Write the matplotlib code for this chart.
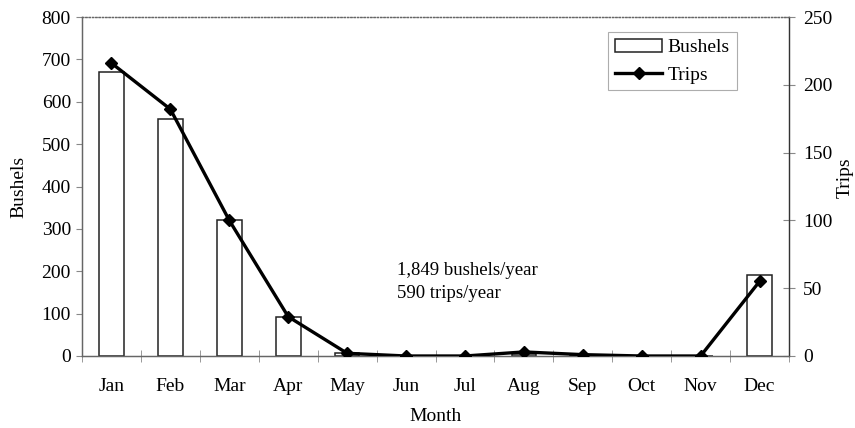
import matplotlib.pyplot as plt
import numpy as np

plt.rcParams['font.family'] = ['Liberation Serif', 'DejaVu Serif']

months = ['Jan', 'Feb', 'Mar', 'Apr', 'May', 'Jun', 'Jul', 'Aug', 'Sep', 'Oct', 'Nov', 'Dec']
bushels = [670, 560, 320, 92, 8, 0, 0, 5, 2, 0, 0, 192]
trips = [216, 182, 100, 29, 2, 0, 0, 3, 1, 0, 0, 55]
notes = ['1,849 bushels/year', '590 trips/year']

x = np.arange(len(months))

fig = plt.figure(figsize=(8.55, 4.28), dpi=100)
ax = fig.add_axes([82 / 855, 1 - 356 / 428, 707 / 855, 339 / 428])
ax2 = ax.twinx()

bars = ax.bar(x, bushels, width=0.42, facecolor='white', edgecolor='#222222',
              linewidth=1.1, label='Bushels', zorder=2)
ln, = ax2.plot(x, trips, color='black', linewidth=2.4, marker='D', markersize=6,
               label='Trips', zorder=3)

ax.set_xlim(-0.5, 11.5)
ax.set_ylim(0, 800)
ax2.set_ylim(0, 250)
ax.set_yticks(range(0, 801, 100))
ax2.set_yticks(range(0, 251, 50))

# month names centred under bars, tick marks on the boundaries
ax.set_xticks(x)
ax.set_xticklabels(months)
ax.set_xticks(np.arange(-0.5, 12, 1), minor=True)
ax.tick_params(axis='x', which='major', length=0, pad=16, labelsize=14)
ax.tick_params(axis='x', which='minor', length=8, direction='inout', color='#888888')
ax.tick_params(axis='y', direction='out', length=4, color='#888888', labelsize=14, pad=4)
ax2.tick_params(axis='y', direction='inout', length=8, color='#888888', labelsize=14, pad=6)

for a in (ax, ax2):
    for s in a.spines.values():
        s.set_color('#666666')
        s.set_linewidth(0.9)
ax.spines['top'].set_linestyle(':')
ax2.spines['top'].set_linestyle(':')
ax2.spines['right'].set_color('#333333')

ax.set_ylabel('Bushels', fontsize=14, labelpad=10)
ax.set_xlabel('Month', fontsize=14, labelpad=9)
fig.text(854 / 855, 1 - 178 / 428, 'Trips', rotation=90, fontsize=14, ha='right', va='center')

ax.text(4.85, 201, notes[0], fontsize=13.5, va='center')
ax.text(4.85, 147, notes[1], fontsize=13.5, va='center')

leg = ax2.legend([bars, ln], ['Bushels', 'Trips'], loc='upper right',
                 bbox_to_anchor=(0.926, 0.956), fontsize=14, fancybox=False,
                 handlelength=2.4, borderpad=0.35, labelspacing=0.5,
                 handletextpad=0.3, borderaxespad=0)
leg.get_frame().set_edgecolor('#999999')
leg.get_frame().set_linewidth(0.8)

fig.savefig('out.png', dpi=100)
